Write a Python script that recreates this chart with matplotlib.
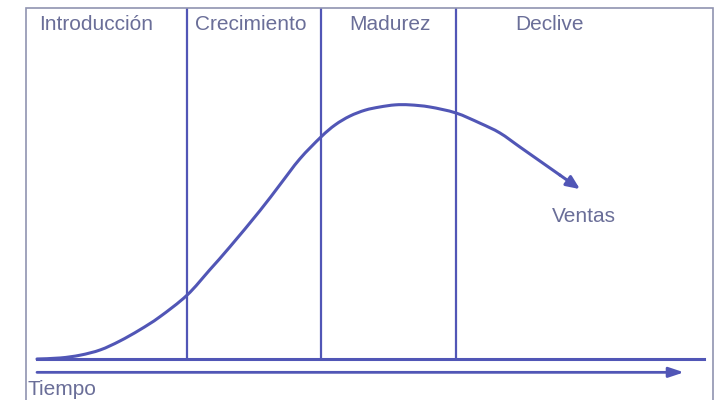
import matplotlib
matplotlib.use('Agg')
from matplotlib import pyplot as plt
from matplotlib.patches import Rectangle, PathPatch
from matplotlib.path import Path
import numpy as np

plt.rcParams['font.family'] = ['Liberation Sans', 'DejaVu Sans']

# curva de ventas (tiempo, ventas)
tiempo = [0, 3.5, 6.5, 9.5, 12.4, 15.4, 18.4, 22.5, 25.9, 28.9, 33.4, 36.4,
          39.4, 42.6, 44.7, 46.9, 49.2, 51.4, 53.7, 55.9, 58.9, 62.8, 66.4,
          69.4, 72.4, 75.4, 78.4, 81.4]
ventas = [0, 0.3, 1.1, 2.6, 5.1, 8.3, 12.0, 18.2, 25.4, 31.9, 42.2, 49.6,
          57.0, 63.3, 66.7, 69.2, 70.9, 71.8, 72.4, 72.4, 71.8, 70.1, 67.2,
          64.4, 60.4, 56.4, 52.4, 48.4]

limites = [22.5, 42.6, 62.8]
etapas = ['Introducción', 'Crecimiento', 'Madurez', 'Declive']
etapas_x = [8.8, 32.1, 52.9, 76.8]

linea = '#5156b6'
texto = '#6a6e98'

fig = plt.figure(figsize=(7.17, 4.0), dpi=100)
ax = fig.add_axes([37/717, 1 - 359/400, (704 - 37)/717, (359 - 8)/400])
ax.set_xlim(0, 100)
ax.set_ylim(0, 100)
ax.axis('off')

# marco
fig.add_artist(Rectangle((26/717, -0.05), (713 - 26)/717, 1.05 - 8/400,
                         transform=fig.transFigure, fill=False,
                         ec='#9094b0', lw=1.2))

ax.axhline(0, color=linea, lw=2.2, clip_on=False)
ax.vlines(limites, 0, 100, color=linea, lw=1.6)

# trazo suave de la curva (bezier por los puntos leidos)
pts = np.column_stack([tiempo[:-1], ventas[:-1]])
ext = np.vstack([pts[0], pts, pts[-1]])
verts = [pts[0]]
codes = [Path.MOVETO]
for i in range(len(pts) - 1):
    p0, p1, p2, p3 = ext[i], ext[i + 1], ext[i + 2], ext[i + 3]
    verts += [p1 + (p2 - p0) / 6, p2 - (p3 - p1) / 6, p2]
    codes += [Path.CURVE4] * 3
ax.add_patch(PathPatch(Path(verts, codes), fill=False, ec=linea, lw=2.2,
                       capstyle='round', clip_on=False))
ax.annotate('', xy=(tiempo[-1], ventas[-1]), xytext=(tiempo[-2], ventas[-2]),
            arrowprops=dict(arrowstyle='-|>,head_length=0.8,head_width=0.35',
                            color=linea, lw=2.2, shrinkA=0, shrinkB=0))

# eje del tiempo
ax.annotate('', xy=(97, -3.8), xytext=(0, -3.8), annotation_clip=False,
            arrowprops=dict(arrowstyle='-|>,head_length=0.9,head_width=0.3',
                            color=linea, lw=2.0, shrinkA=0, shrinkB=0))

for nombre, x in zip(etapas, etapas_x):
    ax.text(x, 95.2, nombre, ha='center', va='center', fontsize=15,
            color=texto)

ax.text(82, 40.7, 'Ventas', ha='center', va='center', fontsize=15,
        color=texto)
ax.text(-1.35, -8.6, 'Tiempo', ha='left', va='center', fontsize=15,
        color=texto, clip_on=False)

fig.savefig('out.png', dpi=100)
